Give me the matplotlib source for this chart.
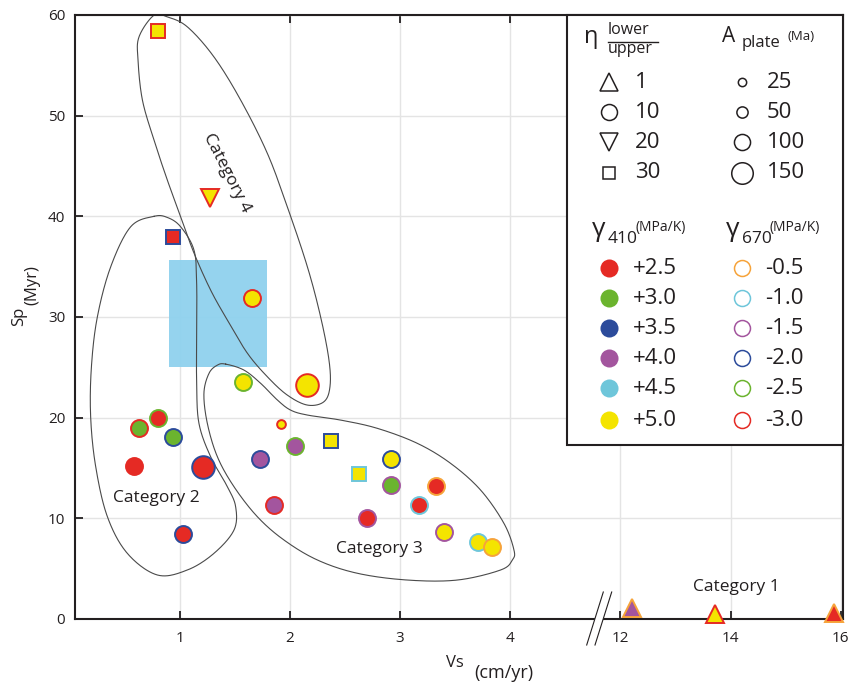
import matplotlib.pyplot as plt
import numpy as np
from matplotlib.patches import Rectangle, Polygon

plt.rcParams['font.family'] = ['Open Sans', 'DejaVu Sans']
INK = '#231f20'

# model runs: trench velocity Vs (cm/yr) and slab penetration time Sp (Myr)
vs = [0.80, 1.275, 0.943, 1.653, 2.16, 1.573, 1.923, 2.05, 2.376, 1.732,
      2.627, 2.915, 2.915, 3.326, 3.172, 1.859, 2.703, 3.399, 3.707, 3.837,
      1.215, 0.803, 0.631, 0.939, 0.585, 1.033, 12.21, 13.71, 15.88]
sp = [58.4, 41.8, 37.9, 31.85, 23.24, 23.5, 19.36, 17.18, 17.64, 15.86,
      14.40, 15.86, 13.34, 13.21, 11.35, 11.32, 10.06, 8.61, 7.68, 7.18,
      15.06, 19.93, 18.97, 18.04, 15.23, 8.41, 1.06, 0.45, 0.56]
eta_ratio = [30, 20, 30, 10, 10, 10, 10, 10, 30, 10,
             30, 10, 10, 10, 10, 10, 10, 10, 10, 10,
             10, 10, 10, 10, 10, 10, 1, 1, 1]
plate_age = [100, 100, 100, 100, 150, 100, 25, 100, 100, 100,
             100, 100, 100, 100, 100, 100, 100, 100, 100, 100,
             150, 100, 100, 100, 100, 100, 100, 100, 100]
gamma_410 = [5.0, 5.0, 2.5, 5.0, 5.0, 5.0, 5.0, 4.0, 5.0, 4.0,
             5.0, 5.0, 3.0, 2.5, 2.5, 4.0, 2.5, 5.0, 5.0, 5.0,
             2.5, 2.5, 3.0, 3.0, 2.5, 2.5, 4.0, 5.0, 2.5]
gamma_670 = [-3.0, -3.0, -2.0, -3.0, -3.0, -2.5, -3.0, -2.5, -2.0, -2.0,
             -1.0, -2.0, -1.5, -0.5, -1.0, -3.0, -1.5, -1.5, -1.0, -0.5,
             -2.0, -2.5, -3.0, -2.0, -3.0, -2.0, -0.5, -3.0, -0.5]

# legend entries
eta_levels = [1, 10, 20, 30]
age_levels = [25, 50, 100, 150]
g410_levels = [2.5, 3.0, 3.5, 4.0, 4.5, 5.0]
g670_levels = [-0.5, -1.0, -1.5, -2.0, -2.5, -3.0]

# shaded range of observed values
obs_vs = [0.90, 1.79]
obs_sp = [25.0, 35.7]

# hand-drawn outlines of the regimes (Vs, Sp)
cat2_vs = [0.767, 0.555, 0.374, 0.253, 0.199, 0.192, 0.238, 0.344, 0.525, 0.798,
           1.070, 1.311, 1.493, 1.508, 1.433, 1.281, 1.175, 1.154, 1.154, 1.154,
           1.130, 1.009, 0.888]
cat2_sp = [40.0, 38.96, 34.99, 30.02, 25.06, 20.09, 15.12, 10.16, 6.52, 4.37,
           4.87, 6.52, 8.84, 11.15, 13.14, 16.12, 19.43, 23.41, 28.37, 33.34,
           36.64, 38.96, 39.89]
cat3_vs = [1.417, 1.583, 1.735, 1.887, 2.007, 2.159, 2.461, 2.794, 3.157, 3.459,
           3.731, 3.943, 4.034, 4.019, 3.913, 3.520, 3.066, 2.613, 2.250, 1.946,
           1.705, 1.493, 1.342, 1.251, 1.220, 1.266, 1.342]
cat3_sp = [25.32, 24.73, 23.41, 21.75, 20.75, 20.26, 19.76, 18.94, 17.45, 15.46,
           12.81, 9.50, 6.85, 5.86, 4.87, 3.87, 3.87, 4.54, 5.86, 7.85,
           10.16, 13.14, 16.12, 19.43, 22.41, 24.40, 25.22]
cat4_vs = [0.767, 0.631, 0.622, 0.662, 0.767, 0.888, 1.009, 1.130, 1.281, 1.433,
           1.614, 1.796, 1.977, 2.159, 2.309, 2.364, 2.355, 2.279, 2.159, 1.977,
           1.796, 1.554, 1.311, 1.070, 0.888]
cat4_sp = [59.98, 57.83, 55.51, 51.54, 47.57, 43.60, 39.96, 36.35, 32.67, 29.69,
           26.41, 24.06, 22.24, 21.25, 21.58, 23.07, 25.72, 30.02, 34.99, 40.94,
           46.25, 51.54, 55.84, 58.82, 59.81]

fill_colors = {2.5: '#e52a24', 3.0: '#6bb42e', 3.5: '#2c4b9b',
               4.0: '#a3559e', 4.5: '#6ec6da', 5.0: '#f4e400'}
edge_colors = {-0.5: '#f6a33a', -1.0: '#6ec6da', -1.5: '#a3559e',
               -2.0: '#2c4b9b', -2.5: '#6bb42e', -3.0: '#e52a24'}
eta_markers = {1: '^', 10: 'o', 20: 'v', 30: 's'}
marker_scale = {'^': 1.07, 'o': 1.0, 'v': 1.07, 's': 0.78}
age_sizes = {25: 6.3, 50: 8.5, 100: 12.2, 150: 16.3}


def fwd(x):
    x = np.asarray(x, float)
    return np.where(x <= 4.5, x,
                    np.where(x >= 12, 5 + (x - 12) / 2, 4.5 + (x - 4.5) / 15))


def inv(u):
    u = np.asarray(u, float)
    return np.where(u <= 4.5, u,
                    np.where(u >= 5, 12 + (u - 5) * 2, 4.5 + (u - 4.5) * 15))


def closed_spline(xs, ys, n=24):
    p = np.column_stack([xs, ys])
    m = len(p)
    t = np.linspace(0, 1, n, endpoint=False)[:, None]
    out = []
    for i in range(m):
        p0, p1, p2, p3 = p[i - 1], p[i], p[(i + 1) % m], p[(i + 2) % m]
        out.append(0.5 * (2 * p1 + (p2 - p0) * t
                          + (2 * p0 - 5 * p1 + 4 * p2 - p3) * t ** 2
                          + (3 * p1 - p0 - 3 * p2 + p3) * t ** 3))
    out = np.vstack(out + [p[:1]])
    return out[:, 0], out[:, 1]


fig = plt.figure(figsize=(8.56, 6.84), dpi=100)
ax = fig.add_axes([75 / 856, 65 / 684, 768 / 856, 604 / 684])
ax.set_xscale('function', functions=(fwd, inv))
ax.set_xlim(0.05, 16.04)
ax.set_ylim(0, 60)

ax.set_xticks([1, 2, 3, 4, 12, 14, 16])
ax.set_xticklabels(['1', '2', '3', '4', '12', '14', '16'])
ax.set_yticks(range(0, 61, 10))
ax.grid(True, color='#e4e4e4', lw=1.0, zorder=0)
ax.set_axisbelow(True)
ax.tick_params(direction='in', length=5.8, width=1.3, color=INK,
               labelcolor=INK, labelsize=11, top=True, right=False)
ax.tick_params(axis='x', pad=9)
ax.tick_params(axis='y', pad=7)
for s in ax.spines.values():
    s.set_linewidth(1.5)
    s.set_color(INK)

ax.add_patch(Rectangle((obs_vs[0], obs_sp[0]), obs_vs[1] - obs_vs[0],
                       obs_sp[1] - obs_sp[0], facecolor='#8fd1ee',
                       edgecolor='none', alpha=0.95, zorder=1))

for cx, cy in [(cat2_vs, cat2_sp), (cat3_vs, cat3_sp), (cat4_vs, cat4_sp)]:
    sx, sy = closed_spline(cx, cy)
    ax.plot(sx, sy, color='#4a4a4a', lw=0.8, zorder=2)

for x, y, e, a, g1, g2 in zip(vs, sp, eta_ratio, plate_age, gamma_410, gamma_670):
    mk = eta_markers[e]
    ax.plot(x, y, marker=mk, ms=age_sizes[a] * marker_scale[mk], ls='none',
            mfc=fill_colors[g1], mec=edge_colors[g2], mew=1.4,
            zorder=6, clip_on=False)

lab = dict(fontsize=12.5, color=INK, ha='center', va='center', zorder=4)
ax.text(0.785, 12.0, 'Category 2', **lab)
ax.text(2.813, 6.95, 'Category 3', **lab)
ax.text(14.11, 3.2, 'Category 1', **lab)
ax.text(1.432, 44.3, 'Category 4', rotation=-63, rotation_mode='anchor', **lab)

# overlay in pixel units for labels, axis break and the key
lax = fig.add_axes([0, 0, 1, 1], zorder=5)
lax.set_xlim(0, 856)
lax.set_ylim(684, 0)
lax.axis('off')
lax.patch.set_alpha(0)

lax.add_patch(Polygon([(586.7, 645), (603.3, 592), (611.7, 592), (595, 645)],
                      closed=True, facecolor='white', edgecolor='none'))
lax.plot([586.7, 603.3], [645, 592], color=INK, lw=0.8)
lax.plot([595, 611.7], [645, 592], color=INK, lw=0.8)

lax.text(455, 663, 'Vs', fontsize=12, color=INK, ha='center', va='center')
lax.text(504, 673, '(cm/yr)', fontsize=13, color=INK, ha='center', va='center')
lax.text(19, 316, 'Sp', fontsize=12, color=INK, ha='center', va='center', rotation=90)
lax.text(32, 285, '(Myr)', fontsize=12, color=INK, ha='center', va='center', rotation=90)

# key
lax.add_patch(Rectangle((567, 15), 276, 430, facecolor='white',
                        edgecolor=INK, lw=1.5))
txt = dict(color=INK, va='center', ha='left')
lax.text(584, 37, 'η', fontsize=17, **txt)
lax.text(608, 30, 'lower', fontsize=11.5, **txt)
lax.text(608, 49, 'upper', fontsize=11.5, **txt)
lax.plot([608, 658], [41.5, 41.5], color=INK, lw=1.0)
lax.text(722, 36, 'A', fontsize=15, **txt)
lax.text(742, 43, 'plate', fontsize=12, **txt)
lax.text(788, 37, '(Ma)', fontsize=9.5, **txt)

rows_top = [82, 112, 142, 173]
for y, e in zip(rows_top, eta_levels):
    mk = eta_markers[e]
    lax.plot(609, y, marker=mk, ms=11.5 * marker_scale[mk], mfc='none',
             mec=INK, mew=1.1, ls='none')
    lax.text(635, y, str(e), fontsize=16, **txt)
for y, a in zip(rows_top, age_levels):
    lax.plot(742, y, marker='o', ms=age_sizes[a] * 0.95, mfc='none',
             mec=INK, mew=1.1, ls='none')
    lax.text(767, y, str(a), fontsize=16, **txt)

lax.text(592, 229, 'γ', fontsize=19, **txt)
lax.text(608, 239, '410', fontsize=12.5, **txt)
lax.text(636, 227, '(MPa/K)', fontsize=10, **txt)
lax.text(726, 229, 'γ', fontsize=19, **txt)
lax.text(742, 239, '670', fontsize=12.5, **txt)
lax.text(770, 227, '(MPa/K)', fontsize=10, **txt)

rows_bot = [268, 298, 328, 358, 388, 420]
for y, g in zip(rows_bot, g410_levels):
    lax.plot(609, y, marker='o', ms=13, mfc=fill_colors[g], mec='none', ls='none')
    lax.text(633, y, f'+{g:.1f}', fontsize=16, **txt)
for y, g in zip(rows_bot, g670_levels):
    lax.plot(742, y, marker='o', ms=11.5, mfc='none', mec=edge_colors[g],
             mew=1.1, ls='none')
    lax.text(765, y, f'{g:.1f}', fontsize=16, **txt)

fig.savefig('out.png', dpi=100)
